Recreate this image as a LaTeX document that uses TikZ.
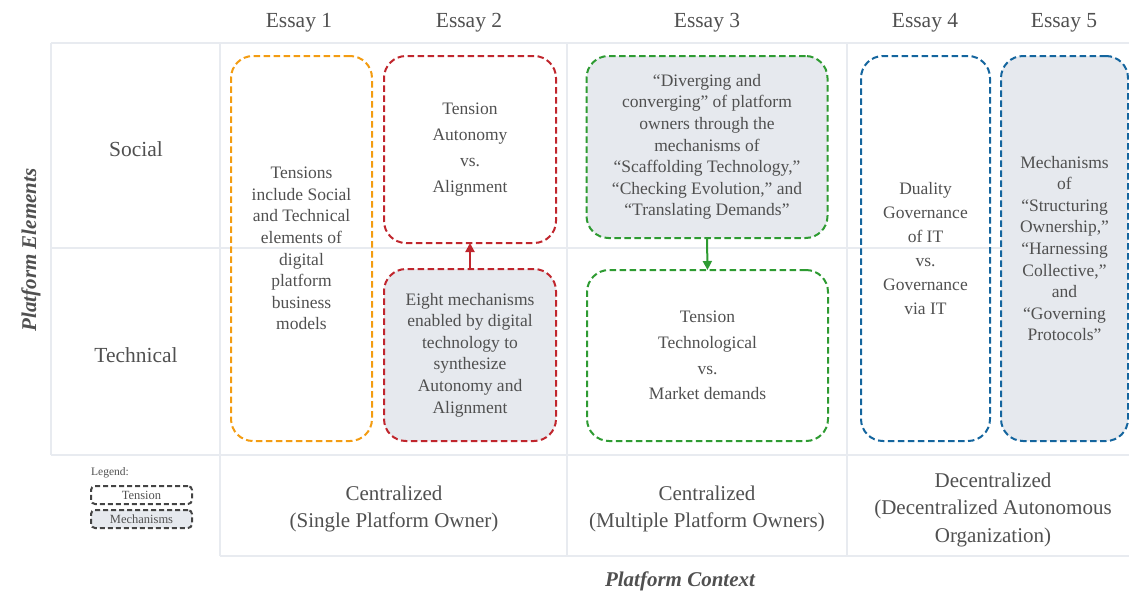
\documentclass[tikz,border=0pt]{standalone}
\usepackage{fontspec}
\setmainfont{Liberation Serif}
\usetikzlibrary{arrows.meta}
\definecolor{gridc}{HTML}{E8EBF0}
\definecolor{txt}{HTML}{505050}
\definecolor{orng}{HTML}{F39C12}
\definecolor{redc}{HTML}{C0262D}
\definecolor{grn}{HTML}{2E9B32}
\definecolor{blu}{HTML}{14659E}
\definecolor{fillg}{HTML}{E6E9EE}
\definecolor{legc}{HTML}{444444}
\begin{document}
\begin{tikzpicture}[x=1pt,y=-1pt,
  grid/.style={draw=gridc, line width=1.5pt},
  lbl/.style={text=txt, font=\fontsize{21.5}{27}\selectfont, align=center, inner sep=0pt},
  tbox/.style={draw=#1, line width=2pt, dash pattern=on 6.5pt off 3.5pt, rounded corners=22pt,
    text=txt, align=center, inner sep=0pt, outer sep=0pt},
  mfont/.style={font=\fontsize{17.5}{21.6}\selectfont},
  tfont/.style={font=\fontsize{17.5}{25.8}\selectfont},
  mech/.style={fill=fillg},
  conn/.style={draw=#1, line width=2pt, -{Triangle[length=9pt,width=9pt]}},
  legbox/.style={draw=legc, line width=2pt, dash pattern=on 5pt off 3pt, rounded corners=4pt,
    minimum width=101, minimum height=18, inner sep=0pt, text=txt, font=\fontsize{12.5}{14}\selectfont},
  axis/.style={text=txt, font=\fontsize{21}{25}\selectfont\bfseries\itshape, inner sep=0pt}
]
\useasboundingbox (0,0) rectangle (1129,592);
% grid
\draw[grid] (51,43) -- (1129,43);
\draw[grid] (51,248) -- (1129,248);
\draw[grid] (51,455) -- (1129,455);
\draw[grid] (220,556) -- (1129,556);
\draw[grid] (51,43) -- (51,455);
\draw[grid] (220,43) -- (220,556);
\draw[grid] (567,43) -- (567,556);
\draw[grid] (847,43) -- (847,556);
% headers
\node[lbl] (h1) at (299,23) {Essay 1};
\node[lbl] (h2) at (469,23) {Essay 2};
\node[lbl] (h3) at (707,23) {Essay 3};
\node[lbl] (h4) at (925,23) {Essay 4};
\node[lbl] (h5) at (1064,23) {Essay 5};
\node[lbl] (soc) at (136,149) {Social};
\node[lbl] (tec) at (136,355) {Technical};
% boxes
\node[tbox=orng, mfont, minimum width=141, minimum height=385] (e1) at (301.5,248.5)
  {Tensions\\include Social\\and Technical\\elements of\\digital\\platform\\business\\models};
\node[tbox=redc, tfont, minimum width=172, minimum height=187] (rt) at (470,149.5)
  {Tension\\Autonomy\\vs.\\Alignment};
\node[tbox=redc, mech, mfont, minimum width=172, minimum height=172] (rb) at (470,355)
  {Eight mechanisms\\enabled by digital\\technology to\\synthesize\\Autonomy and\\Alignment};
\node[tbox=grn, mech, mfont, minimum width=241, minimum height=182] (gt) at (707,147)
  {“Diverging and\\converging” of platform\\owners through the\\mechanisms of\\“Scaffolding Technology,”\\“Checking Evolution,” and\\“Translating Demands”};
\node[tbox=grn, tfont, minimum width=241, minimum height=171] (gb) at (707.5,355.5)
  {Tension\\Technological\\vs.\\Market demands};
\node[tbox=blu, font=\fontsize{17.5}{24}\selectfont, minimum width=129, minimum height=385] (b1) at (925.5,248.5)
  {Duality\\Governance\\of IT\\vs.\\Governance\\via IT};
\node[tbox=blu, mech, mfont, minimum width=127, minimum height=385] (b2) at (1064.5,248.5)
  {Mechanisms\\of\\“Structuring\\Ownership,”\\“Harnessing\\Collective,”\\and\\“Governing\\Protocols”};
% connectors
\draw[conn=redc] (rb.north) -- (rt.south);
\draw[conn=grn] (gt.south) -- (gb.north);
% context row
\node[lbl, font=\fontsize{21}{27}\selectfont] (c1) at (394,509) {Centralized\\(Single Platform Owner)};
\node[lbl, font=\fontsize{21}{27}\selectfont] (c2) at (707,509) {Centralized\\(Multiple Platform Owners)};
\node[lbl, font=\fontsize{21}{27.5}\selectfont] (c3) at (993,509.5) {Decentralized\\(Decentralized Autonomous\\Organization)};
% legend
\node[text=txt, font=\fontsize{11.5}{13}\selectfont, anchor=west, inner sep=0pt] (lg) at (91,473) {Legend:};
\node[legbox] (lt) at (141.5,495) {Tension};
\node[legbox, fill=fillg] (lm) at (141.5,519) {Mechanisms};
% axis titles
\node[axis] (px) at (680,581) {Platform Context};
\node[axis, rotate=90] (py) at (31,250) {Platform Elements};
\end{tikzpicture}
\end{document}
